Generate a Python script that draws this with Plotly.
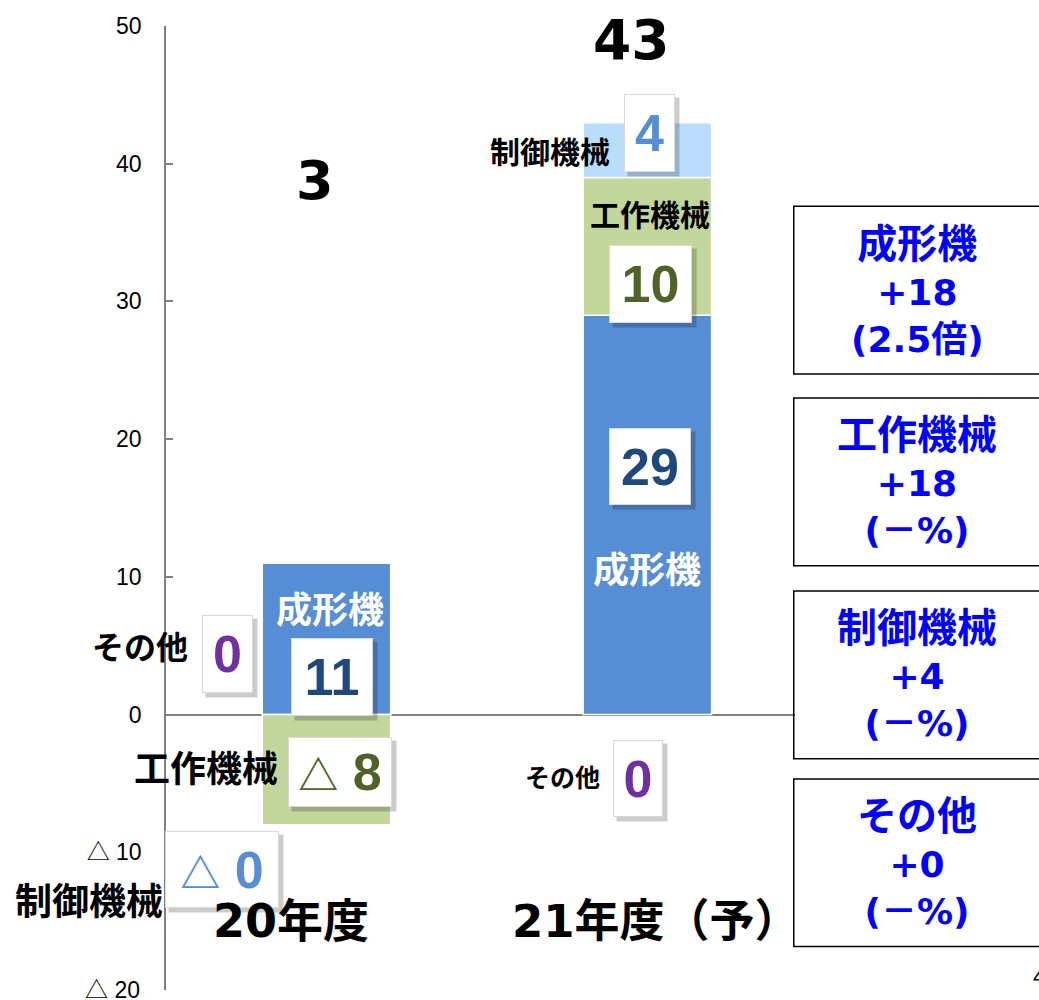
import plotly.graph_objects as go

# data
years = ["20年度", "21年度（予）"]
series = ["成形機", "工作機械", "制御機械", "その他"]
seikei = [11, 29]
kousaku = [-8, 10]
seigyo = [0, 4]
sonota = [0, 0]
totals = [3, 43]
tick_vals = [-20, -10, 0, 10, 20, 30, 40, 50]
tick_text = ["△ 20", "△ 10", "0", "10", "20", "30", "40", "50"]
diff_titles = ["成形機", "工作機械", "制御機械", "その他"]
diff_values = ["+18", "+18", "+4", "+0"]
diff_rates = ["(2.5倍)", "(－%)", "(－%)", "(－%)"]

colors = ["#558ED5", "#C3D69B", "#B9DCFF", "#7030A0"]
JP = "Noto Sans CJK JP"
NUM = "DejaVu Sans, Noto Sans CJK JP"
TICK = "Liberation Sans, " + JP

fig = go.Figure()
for name, vals, col in zip(series, [seikei, kousaku, seigyo, sonota], colors):
    fig.add_trace(go.Bar(
        x=years, y=vals, name=name,
        marker=dict(color=col, line=dict(color="white", width=1.5)),
        showlegend=False,
    ))

annos = []


def boxed(x, y, text, color, w, h, size=52):
    # shadow first, then the white label box on top
    annos.append(dict(x=x, y=y, xref="x", yref="y", text=" ", showarrow=False,
                      width=w, height=h, bgcolor="rgba(0,0,0,0.2)",
                      xshift=4, yshift=-4, font=dict(size=size, color="rgba(0,0,0,0)")))
    annos.append(dict(x=x, y=y, xref="x", yref="y", text=f"<b>{text}</b>", showarrow=False,
                      width=w, height=h, bgcolor="white", bordercolor="#D9D9D9", borderwidth=1,
                      borderpad=0, font=dict(size=size, color=color, family="Liberation Sans, " + JP)))


def label(x, y, text, size, color="black", anchor="center", family=JP, xshift=0):
    annos.append(dict(x=x, y=y, xref="x", yref="y", text=f"<b>{text}</b>", showarrow=False,
                      xanchor=anchor, yanchor="middle", xshift=xshift,
                      font=dict(size=size, color=color, family=family)))


def tri(n):
    return f"<span style='font-size:40px'>△</span> {n}"


# totals
label(-0.036, 38.8, str(totals[0]), 54, family=NUM)
label(0.952, 49.0, str(totals[1]), 55, family=NUM)

# 21年度
label(0.889, 41.0, "制御機械", 30, anchor="right")
boxed(1.008, 42.2, str(seigyo[1]), "#558ED5", 49, 76)
label(1.008, 36.4, "工作機械", 30)
boxed(1.011, 31.3, str(kousaku[1]), "#4F6228", 81, 76)
boxed(1.008, 18.0, str(seikei[1]), "#1F497D", 80, 75)
label(1.0, 10.7, "成形機", 36, color="white")
label(0.858, -4.43, "その他", 25, anchor="right")
boxed(0.97, -4.64, str(sonota[1]), "#7030A0", 48, 75)

# 20年度
label(0.011, 7.84, "成形機", 36, color="white")
boxed(0.017, 2.76, str(seikei[0]), "#1F497D", 80, 76)
label(-0.425, 5.08, "その他", 32, anchor="right")
boxed(-0.307, 4.43, str(sonota[0]), "#7030A0", 49, 76)
label(-0.145, -3.7, "工作機械", 36, anchor="right")
boxed(0.042, -4.14, tri(abs(kousaku[0])), "#4F6228", 102, 68)
boxed(-0.326, -11.25, tri(seigyo[0]), "#558ED5", 112, 75)
label(-0.5, -13.4, "制御機械", 37, anchor="right", xshift=-1)

# category labels
label(-0.11, -15.0, years[0], 46, family=NUM)
label(1.027, -15.0, years[1], 45, family=NUM)

# lowest tick label sits right on the page edge, so draw it as an annotation
annos.append(dict(xref="paper", yref="y", x=0, y=tick_vals[0], xanchor="right", yanchor="middle",
                  xshift=-24, showarrow=False, text=tick_text[0],
                  font=dict(size=23, color="black", family=TICK)))
axis_text = [""] + tick_text[1:]

# right-hand change boxes (open on the right, they run off the page)
box_rows = [(0.639, 0.813), (0.440, 0.614), (0.240, 0.414), (0.045, 0.219)]
shapes = []
for (y0, y1), t, v, r in zip(box_rows, diff_titles, diff_values, diff_rates):
    shapes.append(dict(type="path", xref="paper", yref="paper",
                       path=f"M 1.6,{y0} L 0.998,{y0} L 0.998,{y1} L 1.6,{y1}",
                       line=dict(color="black", width=1.5)))
    annos.append(dict(xref="paper", yref="paper", x=1.194, y=(y0 + y1) / 2, showarrow=False,
                      xanchor="center", yanchor="middle",
                      text=f"<b><span style='font-size:40px'>{t}</span></b><br><b>{v}</b><br><b>{r}</b>",
                      font=dict(size=36, color="#0000FF", family=NUM)))

# page number peeking in at bottom right
annos.append(dict(xref="paper", yref="paper", x=1.375, y=0.0135, xanchor="left", yanchor="middle",
                  showarrow=False, text="4",
                  font=dict(size=22, color="black", family="Liberation Sans")))

fig.update_layout(
    barmode="relative",
    bargap=0.6,
    width=1039, height=1000,
    margin=dict(l=166, r=244, t=26, b=10, autoexpand=False),
    paper_bgcolor="white", plot_bgcolor="white",
    shapes=shapes,
    annotations=annos,
    xaxis=dict(range=[-0.5, 1.46], showticklabels=False, showgrid=False, zeroline=False,
               showline=False, ticks=""),
    yaxis=dict(range=[-20, 50], tickvals=tick_vals, ticktext=axis_text,
               showgrid=False, showline=True, linecolor="#808080", linewidth=1.5,
               ticks="inside", ticklen=7, tickcolor="#808080", tickwidth=1.5,
               zeroline=True, zerolinecolor="#808080", zerolinewidth=1.5,
               ticklabelstandoff=18, layer="above traces", automargin=False,
               tickfont=dict(size=23, color="black", family=TICK)),
)

# drop the default body margin so the figure sits flush in the window
fig.write_html("out.html", config={"displayModeBar": False},
               post_script="document.body.style.margin='0';document.body.style.overflow='hidden';")
